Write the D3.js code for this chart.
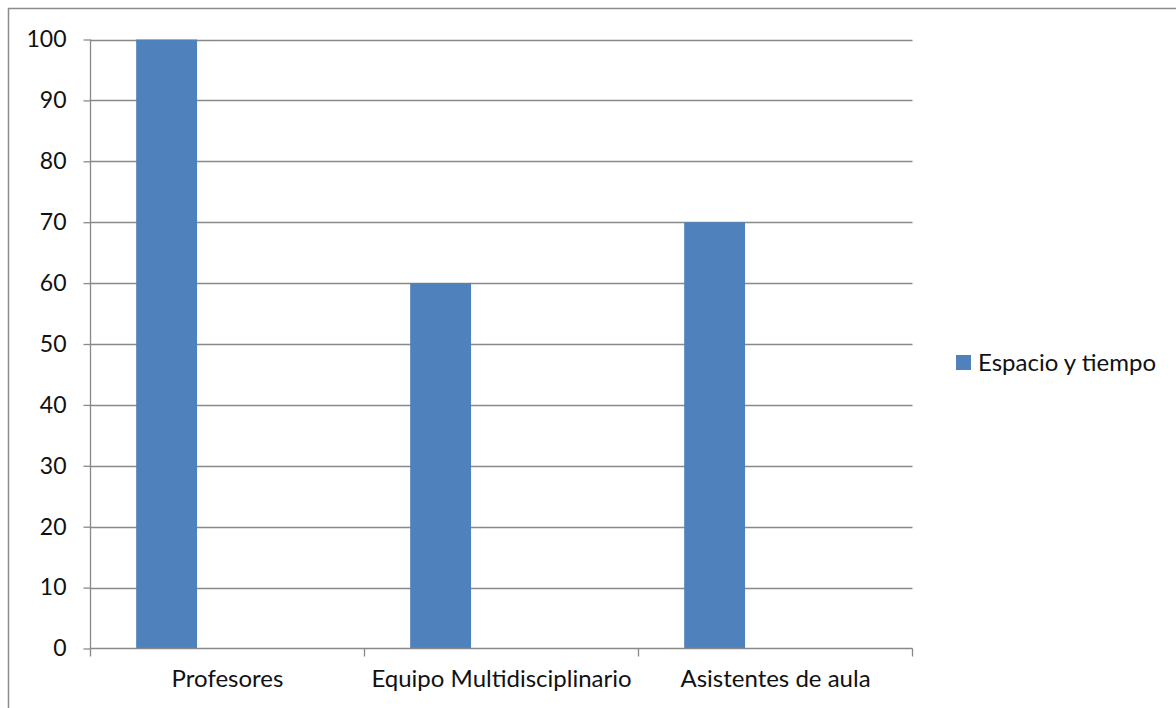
<!DOCTYPE html>
<html>
<head>
<meta charset="utf-8">
<script src="https://cdn.jsdelivr.net/npm/d3@7"></script>
<style>
  html, body { margin: 0; padding: 0; background: #fff; }
  svg { display: block; }
  text { font-family: "Lato", "Open Sans", sans-serif; fill: #111; }
</style>
</head>
<body>
<svg id="chart" width="1176" height="708"></svg>
<script>
// Data
const categories = ["Profesores", "Equipo Multidisciplinario", "Asistentes de aula"];
const seriesName = "Espacio y tiempo";
const values = [100, 60, 70];
const yTicks = [0, 10, 20, 30, 40, 50, 60, 70, 80, 90, 100];

const svg = d3.select("#chart");
const W = 1176, H = 708;
const plot = { left: 90.5, right: 912.5, top: 39.5, bottom: 648.5 };
const gridColor = "#898989";
const barColor = "#4F81BD";
const fontSize = 24;

// Outer chart frame (extends beyond the visible page on the right and bottom)
svg.append("rect")
  .attr("x", 8.5).attr("y", 8.5)
  .attr("width", W + 20).attr("height", H + 20)
  .attr("fill", "#fff").attr("stroke", "#8c8c8c").attr("stroke-width", 1.5);

const x = d3.scaleBand().domain(categories).range([plot.left, plot.right]).padding(0);
const y = d3.scaleLinear().domain([0, 100]).range([plot.bottom, plot.top]);

// Each category holds three slots with a 150% gap; this series fills the first slot
const slot = d3.scaleBand().domain([0, 1, 2]).range([0, x.bandwidth()])
  .paddingInner(0).paddingOuter(0.75);

// Horizontal gridlines
svg.append("g").selectAll("line").data(yTicks.filter(t => t > 0)).join("line")
  .attr("x1", plot.left).attr("x2", plot.right)
  .attr("y1", d => Math.round(y(d)) + 0.5).attr("y2", d => Math.round(y(d)) + 0.5)
  .attr("stroke", gridColor).attr("stroke-width", 1.3);

// Bars
svg.append("g").selectAll("rect").data(values).join("rect")
  .attr("x", (d, i) => x(categories[i]) + slot(0))
  .attr("width", slot.bandwidth())
  .attr("y", d => y(d))
  .attr("height", d => y(0) - y(d))
  .attr("fill", barColor);

// Y axis
const yAxis = svg.append("g").attr("transform", `translate(${plot.left},0)`)
  .call(d3.axisLeft(y).tickValues(yTicks).tickSize(7).tickPadding(17).tickFormat(d3.format("d")));
yAxis.select(".domain").attr("stroke", gridColor).attr("stroke-width", 1.3)
  .attr("d", `M0,${plot.top}V${plot.bottom}`);
yAxis.selectAll(".tick line").attr("stroke", gridColor).attr("stroke-width", 1.3);
yAxis.selectAll(".tick text").style("font-size", "23px").attr("fill", "#111");

// X axis
const xAxis = svg.append("g").attr("transform", `translate(0,${plot.bottom})`)
  .call(d3.axisBottom(x).tickSize(0).tickPadding(21));
xAxis.select(".domain").attr("stroke", gridColor).attr("stroke-width", 1.3)
  .attr("d", `M${plot.left},0H${plot.right}`);
xAxis.selectAll(".tick text").style("font-size", fontSize + "px").attr("fill", "#111");
// Category boundary tick marks
const bounds = categories.map(c => x(c)).concat([plot.right]);
xAxis.append("g").selectAll("line").data(bounds).join("line")
  .attr("x1", d => d).attr("x2", d => d).attr("y1", 0).attr("y2", 8)
  .attr("stroke", gridColor).attr("stroke-width", 1.3);

// Legend
const legend = svg.append("g").attr("transform", "translate(956,355)");
legend.append("rect").attr("width", 15).attr("height", 15).attr("fill", barColor);
legend.append("text").attr("x", 22).attr("y", 16).style("font-size", fontSize + "px").text(seriesName);
</script>
</body>
</html>
